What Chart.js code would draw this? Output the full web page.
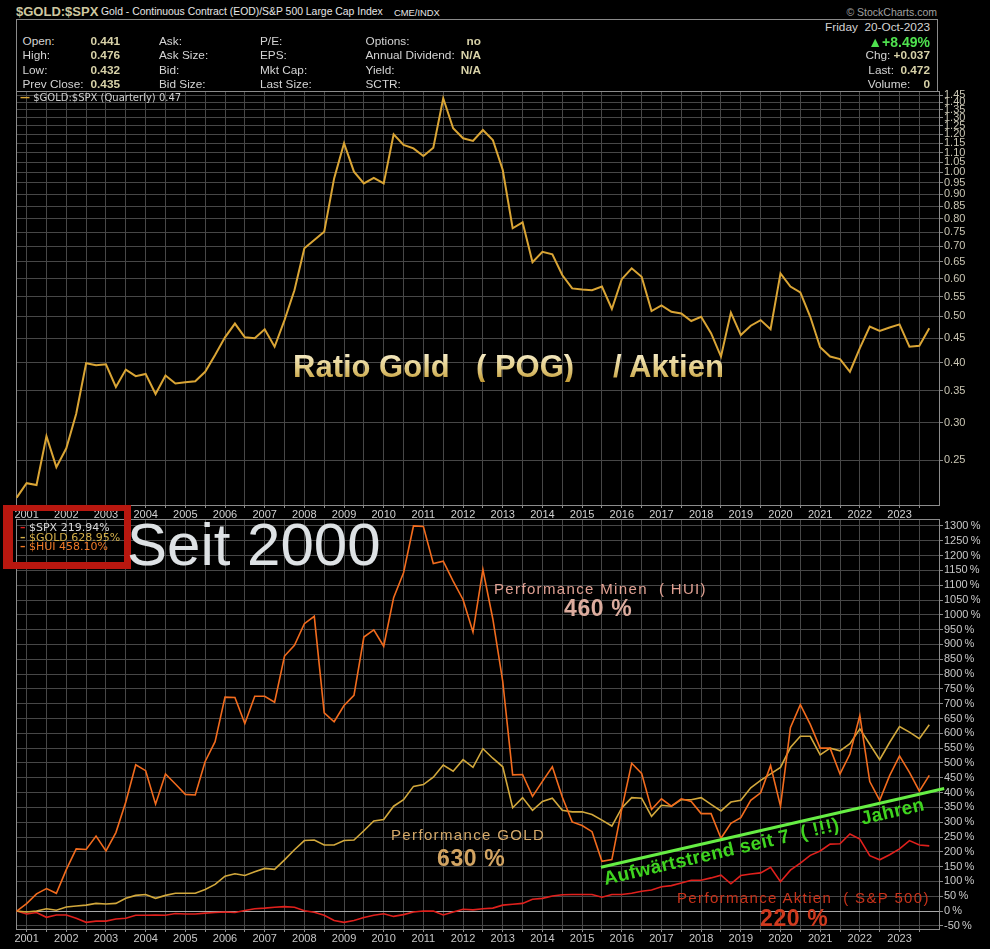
<!DOCTYPE html>
<html>
<head>
<meta charset="utf-8">
<script src="https://cdn.jsdelivr.net/npm/chart.js@4.4.0/dist/chart.umd.min.js"></script>
<style>
  html, body { margin: 0; padding: 0; background: #000; }
  body { position: relative; width: 990px; height: 949px; overflow: hidden; font-family: 'Liberation Sans', Arial, sans-serif; }
  .t { position: absolute; line-height: 1; white-space: pre; z-index: 5; }
  .hd { font-size: 11.8px; color: #d4d4d4; }
  .v { font-weight: bold; color: #d8d2a8; }
  .box { position: absolute; border: 1px solid #8a8a8a; z-index: 1; }
  .panel { position: absolute; left: 0; width: 990px; }
  .mono { font-family: 'DejaVu Sans', Verdana, sans-serif; }
  .gold-grad { font-weight: bold; font-size: 31px; background: linear-gradient(#f8f0d2, #e2cc85 55%, #c29a34); -webkit-background-clip: text; background-clip: text; color: transparent; }
  .perf { font-size: 15px; letter-spacing: 1.35px; }
  .big { font-size: 23px; font-weight: bold; letter-spacing: 0.6px; }
</style>
</head>
<body>

<!-- header -->
<div class="t" style="left:16px;top:5px;font-size:13px;font-weight:bold;color:#cfc8a0;">$GOLD:$SPX</div>
<div class="t" style="left:101px;top:7px;font-size:10.4px;color:#e6e6e6;">Gold - Continuous Contract (EOD)/S&amp;P 500 Large Cap Index</div>
<div class="t" style="left:394px;top:7.6px;font-size:9.4px;color:#e6e6e6;">CME/INDX</div>
<div class="t" style="right:53px;top:6.5px;font-size:10.5px;color:#a0a0a0;">© StockCharts.com</div>
<div class="box" style="left:16px;top:19px;width:920px;height:71px;"></div>

<div class="t hd" style="left:22.5px;top:35.7px;">Open:</div>
<div class="t hd" style="left:22.5px;top:50.1px;">High:</div>
<div class="t hd" style="left:22.5px;top:64.5px;">Low:</div>
<div class="t hd" style="left:22.5px;top:78.9px;">Prev Close:</div>
<div class="t hd v" style="left:90.5px;top:35.7px;">0.441</div>
<div class="t hd v" style="left:90.5px;top:50.1px;">0.476</div>
<div class="t hd v" style="left:90.5px;top:64.5px;">0.432</div>
<div class="t hd v" style="left:90.5px;top:78.9px;">0.435</div>

<div class="t hd" style="left:159px;top:35.7px;">Ask:</div>
<div class="t hd" style="left:159px;top:50.1px;">Ask Size:</div>
<div class="t hd" style="left:159px;top:64.5px;">Bid:</div>
<div class="t hd" style="left:159px;top:78.9px;">Bid Size:</div>

<div class="t hd" style="left:260px;top:35.7px;">P/E:</div>
<div class="t hd" style="left:260px;top:50.1px;">EPS:</div>
<div class="t hd" style="left:260px;top:64.5px;">Mkt Cap:</div>
<div class="t hd" style="left:260px;top:78.9px;">Last Size:</div>

<div class="t hd" style="left:365.5px;top:35.7px;">Options:</div>
<div class="t hd" style="left:365.5px;top:50.1px;">Annual Dividend:</div>
<div class="t hd" style="left:365.5px;top:64.5px;">Yield:</div>
<div class="t hd" style="left:365.5px;top:78.9px;">SCTR:</div>
<div class="t hd v" style="right:509px;top:35.7px;">no</div>
<div class="t hd v" style="right:509px;top:50.1px;">N/A</div>
<div class="t hd v" style="right:509px;top:64.5px;">N/A</div>

<div class="t hd" style="right:60px;top:21.7px;">Friday  20-Oct-2023</div>
<div class="t" style="right:60px;top:35px;font-size:14px;font-weight:bold;color:#4fe24f;">▲+8.49%</div>
<div class="t hd" style="right:60px;top:50.1px;">Chg: <span class="v">+0.037</span></div>
<div class="t hd" style="right:60px;top:64.5px;">Last:  <span class="v">0.472</span></div>
<div class="t hd" style="right:60px;top:78.9px;">Volume:    <span class="v">0</span></div>

<!-- upper panel -->
<div class="panel" style="top:80px;height:445px;z-index:2;"><canvas id="upperChart"></canvas></div>
<div class="t mono" style="left:20px;top:92.5px;font-size:10px;color:#cfcfcf;"><span style="color:#daa535;font-weight:bold;">—</span> $GOLD:$SPX (Quarterly) 0.47</div>
<div class="t gold-grad" style="left:293px;top:351px;">Ratio Gold</div>
<div class="t gold-grad" style="left:476px;top:351px;">( POG)</div>
<div class="t gold-grad" style="left:613px;top:351px;">/ Aktien</div>

<!-- lower panel -->
<div class="panel" style="top:509px;height:440px;z-index:3;"><canvas id="lowerChart"></canvas></div>
<div style="position:absolute;left:3px;top:505px;width:111px;height:51px;border-style:solid;border-color:#b8170f;border-width:6px 7px 7px 10px;z-index:6;"></div>
<div class="t mono" style="left:20px;top:522px;font-size:11px;color:#d8d8d8;z-index:7;"><span style="color:#e02020;font-weight:bold;">–</span> $SPX 219.94%</div>
<div class="t mono" style="left:20px;top:531.7px;font-size:11px;color:#d4b04a;z-index:7;"><span style="font-weight:bold;">–</span> $GOLD 628.95%</div>
<div class="t mono" style="left:20px;top:541.4px;font-size:11px;color:#f07a28;z-index:7;"><span style="font-weight:bold;">–</span> $HUI 458.10%</div>
<div class="t" style="left:127px;top:515px;font-size:60px;color:#dde1e4;z-index:7;">Seit 2000</div>

<div class="t perf" style="left:494px;top:581.3px;color:#e0a092;">Performance Minen  ( HUI)</div>
<div class="t big" style="left:564px;top:597.2px;color:#dcac9e;">460 %</div>
<div class="t perf" style="left:391px;top:826.6px;color:#d6aa6a;">Performance GOLD</div>
<div class="t big" style="left:437px;top:846.5px;color:#d2a462;">630 %</div>
<div class="t perf" style="left:677px;top:890px;color:#c8321a;">Performance Aktien  ( S&amp;P 500)</div>
<div class="t big" style="left:760px;top:907px;color:#d03a1e;">220 %</div>
<div class="t" style="left:606px;top:869px;font-size:19px;font-weight:bold;letter-spacing:0.4px;color:#3fd41f;transform-origin:0 100%;transform:rotate(-13.2deg);">Aufwärtstrend seit 7  ( !!!)    Jahren</div>

<script>
// ── Data (quarterly, Q4 2000 .. Q4 2023) ──────────────────
const years = [2001, 2002, 2003, 2004, 2005, 2006, 2007, 2008, 2009, 2010, 2011, 2012,
  2013, 2014, 2015, 2016, 2017, 2018, 2019, 2020, 2021, 2022, 2023];

// $GOLD:$SPX ratio (log scale panel)
const ratio = [
  0.209, 0.224, 0.222, 0.281, 0.242, 0.265, 0.313, 0.399, 0.395, 0.397,
  0.356, 0.387, 0.375, 0.379, 0.344, 0.376, 0.362, 0.364, 0.366, 0.383,
  0.415, 0.452, 0.483, 0.452, 0.450, 0.470, 0.432, 0.491, 0.567, 0.694,
  0.722, 0.751, 0.971, 1.150, 1.003, 0.948, 0.974, 0.948, 1.201, 1.141,
  1.122, 1.082, 1.126, 1.428, 1.236, 1.178, 1.163, 1.226, 1.168, 1.011,
  0.764, 0.786, 0.649, 0.682, 0.674, 0.610, 0.572, 0.569, 0.567, 0.577,
  0.518, 0.598, 0.630, 0.605, 0.513, 0.527, 0.511, 0.507, 0.489, 0.499,
  0.461, 0.412, 0.509, 0.457, 0.478, 0.491, 0.470, 0.615, 0.577, 0.561,
  0.499, 0.431, 0.412, 0.407, 0.383, 0.429, 0.476, 0.466, 0.474, 0.481,
  0.432, 0.434, 0.472,
];

// Performance since start, in %
const hui = [
  0, 25, 58, 76, 60, 140, 210, 208, 253, 203,
  265, 368, 494, 474, 361, 463, 429, 394, 392, 505,
  572, 722, 721, 633, 725, 725, 705, 861, 897, 970,
  995, 669, 639, 694, 728, 925, 949, 894, 1058, 1142,
  1300, 1298, 1173, 1181, 1114, 1051, 942, 1153, 986, 775,
  460, 461, 387, 438, 487, 385, 301, 289, 268, 168,
  174, 345, 499, 465, 343, 379, 354, 379, 370, 329,
  329, 246, 296, 315, 374, 399, 491, 354, 619, 697,
  630, 550, 550, 463, 530, 660, 437, 374, 457, 524,
  468, 405, 458,
];
const gold = [
  0, -3, 0, 8, 3, 14, 17, 20, 26, 24,
  26, 43, 53, 56, 43, 53, 60, 60, 60, 73,
  90, 118, 126, 120, 133, 144, 141, 173, 207, 238,
  240, 223, 223, 238, 240, 271, 304, 309, 354, 376,
  421, 427, 452, 493, 472, 511, 485, 548, 516, 487,
  349, 383, 340, 370, 381, 340, 335, 335, 326, 307,
  287, 348, 383, 381, 320, 357, 354, 376, 376, 383,
  360, 338, 368, 374, 416, 441, 463, 485, 552, 590,
  590, 527, 550, 541, 565, 615, 563, 511, 569, 623,
  604, 582, 629,
];
const spx = [
  0, -10, -5, -21, -13, -13, -24, -38, -34, -34,
  -27, -24, -14, -14, -13, -14, -8, -10, -10, -7,
  -5, -3, -5, 2, 8, 10, 13, 15, 13, 1,
  -4, -14, -32, -38, -32, -22, -14, -9, -18, -12,
  -3, 0, 0, -13, -3, 6, 4, 8, 10, 20,
  23, 26, 40, 43, 51, 55, 56, 56, 56, 47,
  56, 56, 60, 67, 71, 82, 86, 95, 104, 104,
  112, 121, 92, 120, 125, 129, 148, 99, 138, 162,
  188, 203, 226, 227, 260, 243, 187, 173, 190, 210,
  238, 223, 220,
];

// green hand-drawn trend line (quarter index, %)
const trendX = [58.9, 93.5];
const trendY = [148, 414];

// axis ticks
const ratioTicks = [0.25, 0.30, 0.35, 0.40, 0.45, 0.50, 0.55, 0.60, 0.65, 0.70, 0.75, 0.80,
  0.85, 0.90, 0.95, 1.00, 1.05, 1.10, 1.15, 1.20, 1.25, 1.30, 1.35, 1.40, 1.45];
const perfTicks = [-50, 0, 50, 100, 150, 200, 250, 300, 350, 400, 450, 500, 550, 600, 650,
  700, 750, 800, 850, 900, 950, 1000, 1050, 1100, 1150, 1200, 1250, 1300];

// ── Helpers ───────────────────────────────────────────────
Chart.defaults.font.family = "'Liberation Sans', Arial, sans-serif";
Chart.defaults.animation = false;

const toPoints = arr => arr.map((v, i) => ({ x: i, y: v }));
// vertical grid every half year (odd quarter index), labels on year starts
const halfYears = [];
for (let i = 1; i <= 91; i += 2) halfYears.push(i);

const GRID = '#474747';
const FRAME = '#8c8c8c';

const frame = {
  id: 'frame',
  beforeDatasetsDraw(chart) {
    const a = chart.chartArea, c = chart.ctx;
    c.save();
    c.strokeStyle = FRAME;
    c.lineWidth = 1;
    c.strokeRect(Math.round(a.left) + 0.5, Math.round(a.top) + 0.5, Math.round(a.width) - 1, Math.round(a.height));
    c.restore();
  },
};

function xScale(labelColor) {
  return {
    type: 'linear',
    min: -0.07,
    max: 93.08,
    afterBuildTicks: s => { s.ticks = halfYears.map(v => ({ value: v })); },
    afterFit: s => { s.height = 20; },
    grid: { color: GRID, tickColor: FRAME, tickLength: 3 },
    border: { display: false },
    ticks: {
      autoSkip: false, maxRotation: 0, padding: 0,
      color: labelColor, font: { size: 11 },
      callback: v => ((v - 1) % 4 === 0 ? String(years[(v - 1) / 4]) : ''),
    },
  };
}

// ── Upper: ratio ──────────────────────────────────────────
new Chart(document.getElementById('upperChart'), {
  type: 'line',
  data: {
    datasets: [{
      data: toPoints(ratio),
      borderColor: '#daa535',
      borderWidth: 2,
      pointRadius: 0,
      tension: 0,
    }],
  },
  options: {
    responsive: true,
    maintainAspectRatio: false,
    layout: { padding: { top: 11, left: 16, right: 0, bottom: 0 } },
    plugins: { legend: { display: false }, tooltip: { enabled: false } },
    scales: {
      x: xScale('#d0d0d0'),
      y: {
        type: 'logarithmic',
        position: 'right',
        min: 0.2017,
        max: 1.479,
        afterBuildTicks: s => { s.ticks = ratioTicks.map(v => ({ value: v })); },
        afterFit: s => { s.width = 50; },
        grid: { color: GRID, tickColor: FRAME, tickLength: 3 },
        border: { display: false },
        ticks: {
          autoSkip: false, padding: 1,
          color: '#cac6b4', font: { size: 11 },
          callback: v => Number(v).toFixed(2),
        },
      },
    },
  },
  plugins: [frame],
});

// ── Lower: performance ────────────────────────────────────
new Chart(document.getElementById('lowerChart'), {
  type: 'line',
  data: {
    datasets: [
      { label: '$TREND', data: trendX.map((x, i) => ({ x, y: trendY[i] })), borderColor: '#66ee44', borderWidth: 3, pointRadius: 0, clip: false },
      { label: '$HUI',  data: toPoints(hui),  borderColor: '#f26b1d', borderWidth: 1.6, pointRadius: 0, tension: 0 },
      { label: '$GOLD', data: toPoints(gold), borderColor: '#d2a83c', borderWidth: 1.6, pointRadius: 0, tension: 0 },
      { label: '$SPX',  data: toPoints(spx),  borderColor: '#e0201c', borderWidth: 1.6, pointRadius: 0, tension: 0 },
    ],
  },
  options: {
    responsive: true,
    maintainAspectRatio: false,
    layout: { padding: { top: 10, left: 16, right: 0, bottom: 0 } },
    plugins: { legend: { display: false }, tooltip: { enabled: false } },
    scales: {
      x: xScale('#c8c8c8'),
      y: {
        type: 'linear',
        position: 'right',
        min: -60.5,
        max: 1323.5,
        afterBuildTicks: s => { s.ticks = perfTicks.map(v => ({ value: v })); },
        afterFit: s => { s.width = 50; },
        grid: {
          color: ctx => (ctx.tick && ctx.tick.value === 0 ? '#a8a8a8' : GRID),
          tickColor: FRAME, tickLength: 3,
        },
        border: { display: false },
        ticks: {
          autoSkip: false, padding: 1,
          color: '#c8c8c8', font: { size: 11 },
          callback: v => v + '\u2009%',
        },
      },
    },
  },
  plugins: [frame],
});
</script>
</body>
</html>
